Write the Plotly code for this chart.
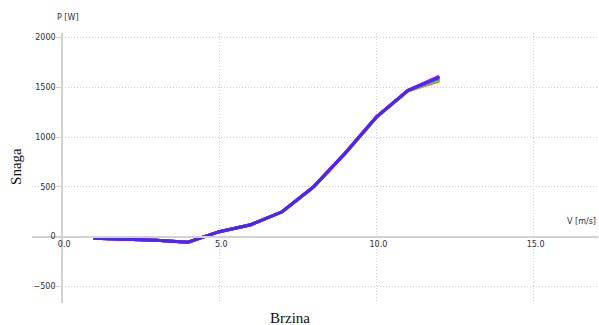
import plotly.graph_objects as go

# Wind speed [m/s] and power curve [W] for several runs
speed = [1, 2, 3, 4, 5, 6, 7, 8, 9, 10, 11, 12]
power_red = [-15, -25, -35, -55, 50, 120, 250, 500, 835, 1200, 1465, 1565]
power_orange = [-15, -25, -35, -55, 50, 120, 250, 500, 835, 1200, 1465, 1572]
power_yellow = [-15, -25, -35, -55, 50, 120, 250, 500, 835, 1200, 1466, 1578]
power_green = [-15, -25, -35, -55, 50, 120, 250, 500, 836, 1200, 1466, 1585]
power_cyan = [-15, -25, -35, -55, 50, 120, 250, 500, 836, 1201, 1467, 1592]
power_magenta = [-15, -25, -35, -55, 50, 121, 252, 503, 840, 1205, 1470, 1612]
power_violet = [-15, -25, -35, -55, 50, 120, 250, 501, 837, 1202, 1468, 1606]
power_blue = [-15, -25, -35, -55, 50, 120, 250, 500, 836, 1201, 1467, 1600]

series = [
    (power_red, "#ff2020"),
    (power_orange, "#ff9900"),
    (power_yellow, "#c8c800"),
    (power_green, "#20c020"),
    (power_cyan, "#00c0d0"),
    (power_magenta, "#ff20ff"),
    (power_violet, "#8a1cff"),
    (power_blue, "#4a26fa"),
]

x_range = [-0.96, 17.05]
y_range = [-666, 2045]

fig = go.Figure()
for values, color in series:
    fig.add_trace(go.Scatter(
        x=speed, y=values, mode="lines",
        line=dict(color=color, width=3),
        showlegend=False, hoverinfo="skip",
    ))

tick_font = dict(family="DejaVu Sans, Verdana, sans-serif", size=8, color="#2e2e40")
axis_common = dict(
    showgrid=True, gridcolor="#cfcfcf", gridwidth=1, griddash="1px,2px",
    zeroline=False, showline=True, linecolor="#d2d2d2", linewidth=2,
    tickfont=tick_font, fixedrange=True,
)

fig.update_layout(
    width=599, height=325,
    margin=dict(l=32, r=1, t=33, b=22),
    paper_bgcolor="white", plot_bgcolor="white",
    xaxis=dict(
        range=x_range, tickvals=[0, 5, 10, 15], tickformat=".1f",
        anchor="free", position=(0 - y_range[0]) / (y_range[1] - y_range[0]),
        ticks="", ticklabelshift=2, **axis_common,
    ),
    yaxis=dict(
        range=y_range, tickvals=[-500, 0, 500, 1000, 1500, 2000],
        anchor="free", position=(0 - x_range[0]) / (x_range[1] - x_range[0]),
        ticks="outside", ticklen=4, tickcolor="#d0d0d0", **axis_common,
    ),
    annotations=[
        dict(text="P [W]", xref="x", x=0, yref="paper", y=1,
             xanchor="center", yanchor="middle", xshift=6, yshift=16,
             showarrow=False, font=tick_font),
        dict(text="V [m/s]", xref="paper", x=1, yref="y", y=0,
             xanchor="right", yanchor="middle", yshift=15,
             showarrow=False, font=tick_font),
        dict(text="Snaga", xref="paper", x=0, yref="y", y=700,
             xanchor="center", yanchor="middle", xshift=-16, textangle=-90,
             showarrow=False,
             font=dict(family="Liberation Serif, Times New Roman, serif", size=15, color="#111")),
        dict(text="Brzina", xref="paper", x=0.456, yref="paper", y=0,
             xanchor="center", yanchor="middle", yshift=-15,
             showarrow=False,
             font=dict(family="Liberation Serif, Times New Roman, serif", size=15, color="#111")),
    ],
)

fig.write_html("out.html")
